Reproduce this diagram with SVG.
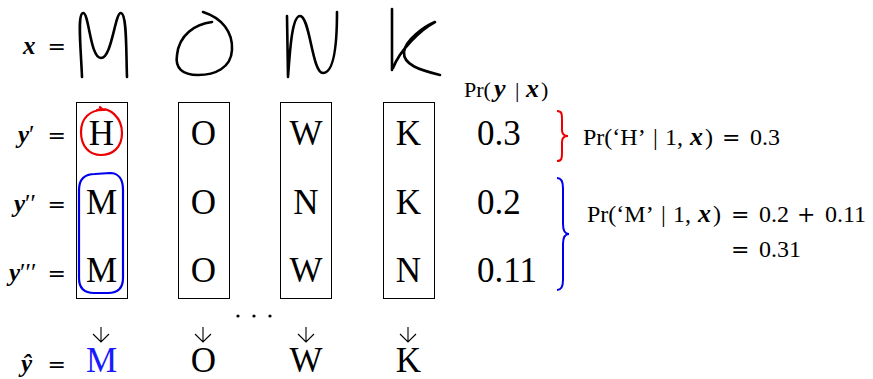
<svg xmlns="http://www.w3.org/2000/svg" width="873" height="379" viewBox="0 0 873 379">
<style>
.t{font-family:"Liberation Serif","DejaVu Serif",serif;fill:#000}
.big{font-size:35px}
.lab{font-size:25px}
.mid{font-size:24px}
.hd{font-size:22px}
.v{font-weight:bold;font-style:italic}
.vv{font-weight:bold;font-style:italic;font-size:26px}
.eq{font-family:"DejaVu Serif",serif;font-size:22px}
.hw{fill:none;stroke:#000;stroke-width:2.6;stroke-linecap:round;stroke-linejoin:round}
.box{fill:none;stroke:#000;stroke-width:1}
.arr{fill:none;stroke:#000;stroke-width:1.1}
</style>
<rect width="873" height="379" fill="#fff"/>

<g id="labels">
<text class="t lab" x="23" y="54"><tspan class="v">x</tspan></text>
<text class="t eq" x="66" y="54" text-anchor="end">=</text>
<text class="t lab" x="18" y="143"><tspan class="v">y</tspan>′</text>
<text class="t eq" x="66" y="143" text-anchor="end">=</text>
<text class="t lab" x="14" y="212"><tspan class="v">y</tspan>′′</text>
<text class="t eq" x="66" y="212" text-anchor="end">=</text>
<text class="t lab" x="9" y="281"><tspan class="v">y</tspan>′′′</text>
<text class="t eq" x="66" y="281" text-anchor="end">=</text>
<text class="t lab" x="21" y="372"><tspan class="v">ŷ</tspan></text>
<text class="t eq" x="66" y="372" text-anchor="end">=</text>
</g>

<g id="handwriting">
<path class="hw" d="M82,77 C81,50 77,14 83,13 C89,12 90,58 101,58 C112,58 115,12 121,13 C127,14 126,50 127,77"/>
<path class="hw" d="M203,12 C222,18 233,32 232,50 C231,68 215,75 198,75 C182,75 175,68 177,55 C179,35 195,24 212,22"/>
<path class="hw" d="M287,16 L288,77 C290,50 292,16 300,16 C310,16 312,73 323,73 C335,73 337,40 337,12"/>
<path class="hw" d="M392,9 L392,70 M393,68 C400,50 420,30 435,22 C425,26 405,40 404,52 C403,65 420,70 440,75"/>
</g>

<g id="col1">
<rect class="box" x="76.5" y="102.5" width="51" height="196"/>
<text class="t big" x="101.5" y="145" text-anchor="middle">H</text>
<text class="t big" x="101.5" y="214" text-anchor="middle">M</text>
<text class="t big" x="101.5" y="282" text-anchor="middle">M</text>
</g>
<g id="col2">
<rect class="box" x="178.5" y="102.5" width="51" height="196"/>
<text class="t big" x="203.5" y="145" text-anchor="middle">O</text>
<text class="t big" x="203.5" y="214" text-anchor="middle">O</text>
<text class="t big" x="203.5" y="282" text-anchor="middle">O</text>
</g>
<g id="col3">
<rect class="box" x="280.5" y="102.5" width="51" height="196"/>
<text class="t big" x="306" y="145" text-anchor="middle">W</text>
<text class="t big" x="306" y="214" text-anchor="middle">N</text>
<text class="t big" x="306" y="282" text-anchor="middle">W</text>
</g>
<g id="col4">
<rect class="box" x="383.5" y="102.5" width="51" height="196"/>
<text class="t big" x="408.5" y="145" text-anchor="middle">K</text>
<text class="t big" x="408.5" y="214" text-anchor="middle">K</text>
<text class="t big" x="408.5" y="282" text-anchor="middle">N</text>
</g>

<g id="highlights">
<path d="M97,110 C110,106 122,118 122,133 C122,148 112,155 101,155 C89,155 81,146 81,132 C81,118 90,110 103,110 L100,107" fill="none" stroke="#ee0000" stroke-width="2.2" stroke-linecap="round"/>
<path d="M95,174 L110,173 C119,173 123,180 123,190 L123,278 C123,288 118,293 108,293 L94,293 C84,293 79,288 79,278 L79,190 C79,180 84,174 95,174 Z" fill="none" stroke="#0000ee" stroke-width="2.2"/>
</g>

<g id="probs">
<text class="t hd" y="97"><tspan x="464">Pr(</tspan><tspan class="vv" x="494">y</tspan><tspan x="515">|</tspan><tspan class="vv" x="526">x</tspan><tspan x="541">)</tspan></text>
<text class="t big" x="477" y="145">0.3</text>
<text class="t big" x="477" y="214">0.2</text>
<text class="t big" x="477" y="282">0.11</text>
</g>

<g id="braces">
<path d="M557,111 C562,111 562,114 562,120 L562,130 C562,134 564,136 568,136 C564,136 562,138 562,142 L562,152 C562,158 562,161 557,161" fill="none" stroke="#ee0000" stroke-width="2"/>
<path d="M557,178 C562,178 563,182 563,188 L563,224 C563,230 565,234 569,234 C565,234 563,238 563,244 L563,280 C563,286 562,290 557,290" fill="none" stroke="#0000ee" stroke-width="2"/>
<text class="t mid" y="145"><tspan x="583">Pr(‘H’</tspan><tspan x="653">|</tspan><tspan x="665">1,</tspan><tspan class="vv" x="690">x</tspan><tspan x="705">)</tspan><tspan class="eq" x="722">=</tspan><tspan x="750">0.3</tspan></text>
<text class="t mid" y="222"><tspan x="587">Pr(‘M’</tspan><tspan x="661">|</tspan><tspan x="673">1,</tspan><tspan class="vv" x="698">x</tspan><tspan x="713">)</tspan><tspan class="eq" x="731">=</tspan><tspan x="759">0.2</tspan><tspan class="eq" x="797">+</tspan><tspan x="825">0.11</tspan></text>
<text class="t mid" y="257"><tspan class="eq" x="731">=</tspan><tspan x="759">0.31</tspan></text>
</g>

<g id="connectors">
<path class="arr" d="M101,327 V342 M93,334 L101,342 L109,334"/>
<path class="arr" d="M203,327 V342 M195,334 L203,342 L211,334"/>
<path class="arr" d="M306,327 V342 M298,334 L306,342 L314,334"/>
<path class="arr" d="M408,327 V342 M400,334 L408,342 L416,334"/>
<circle cx="238" cy="316" r="1.6"/>
<circle cx="254" cy="316" r="1.6"/>
<circle cx="270" cy="316" r="1.6"/>
</g>

<g id="output">
<text class="t big" x="101.5" y="372" text-anchor="middle" style="fill:#1a1aff">M</text>
<text class="t big" x="203.5" y="372" text-anchor="middle">O</text>
<text class="t big" x="306" y="372" text-anchor="middle">W</text>
<text class="t big" x="408.5" y="372" text-anchor="middle">K</text>
</g>
</svg>
